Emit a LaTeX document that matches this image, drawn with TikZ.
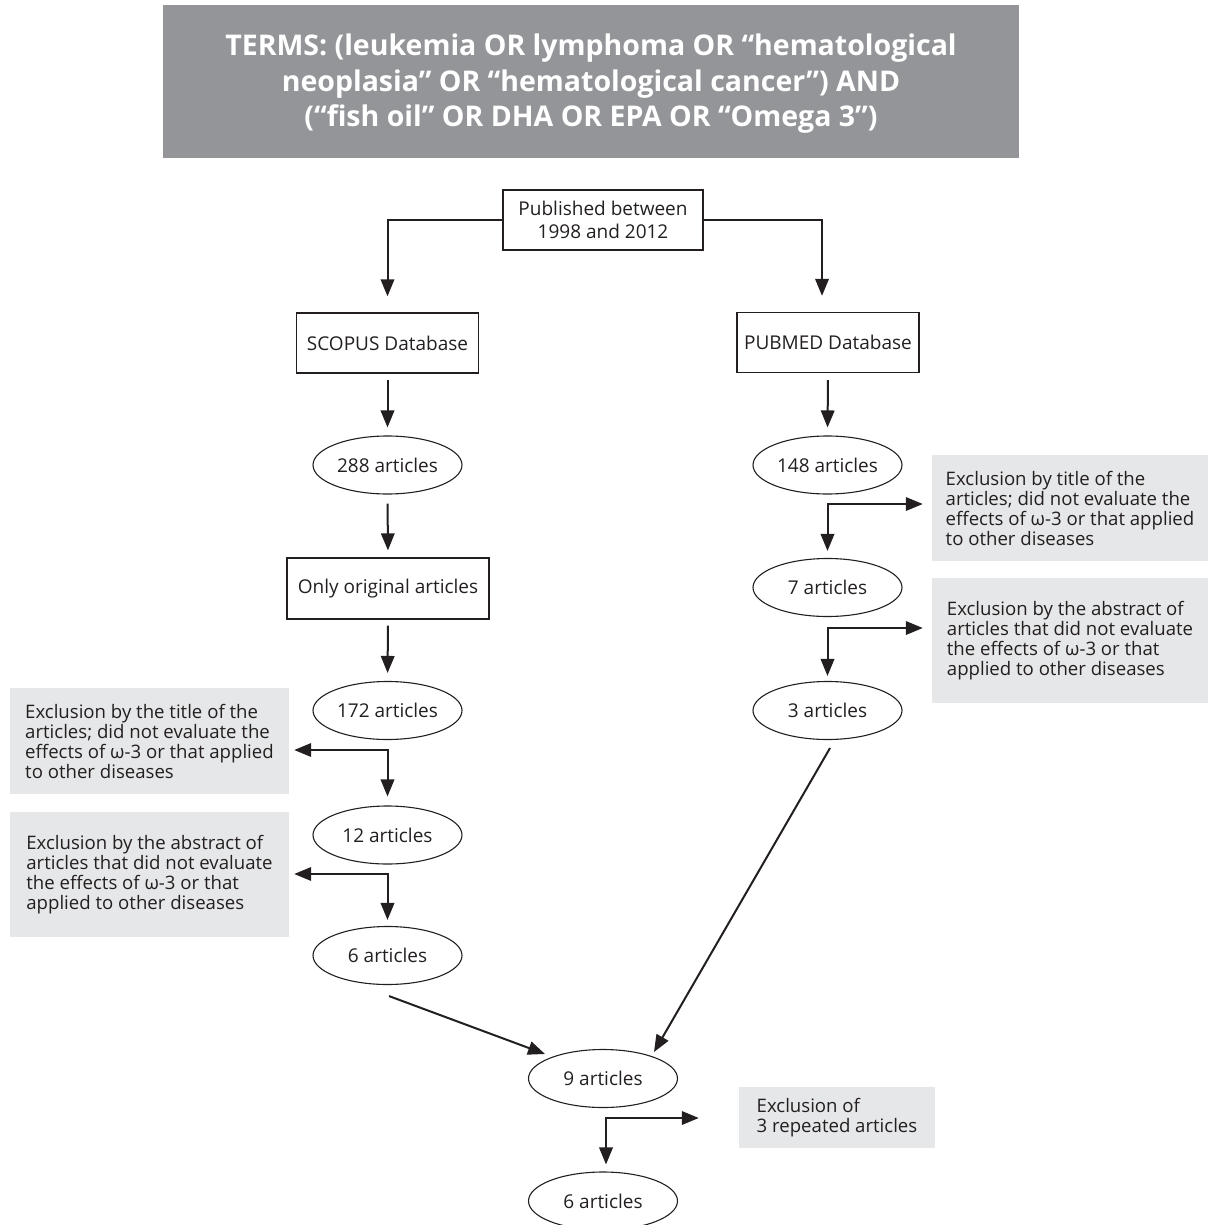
\documentclass[tikz,border=0pt]{standalone}
\usepackage{fontspec}
\setmainfont{Open Sans}
\usetikzlibrary{arrows.meta,shapes.geometric,calc}
\definecolor{ink}{HTML}{231F20}
\definecolor{darkbox}{HTML}{939598}
\definecolor{lightbox}{HTML}{E6E7E8}
\begin{document}
\begin{tikzpicture}[x=1pt,y=-1pt,
  box/.style={draw=ink, line width=1.3pt, rectangle, minimum width=182pt, minimum height=60pt,
    inner sep=0pt, font=\fontsize{19}{23}\selectfont, text=ink, align=center},
  oval/.style={draw=ink, line width=1.1pt, ellipse, minimum width=149pt, minimum height=58pt,
    inner sep=0pt, font=\fontsize{19}{23}\selectfont, text=ink},
  note/.style={fill=lightbox, inner sep=0pt, align=left, font=\fontsize{18.6}{20}\selectfont, text=ink},
  arr/.style={draw=ink, line width=2pt, -{Triangle[length=17pt,width=13.5pt]}},
  biarr/.style={draw=ink, line width=2pt, {Triangle[length=17pt,width=13.5pt]}-{Triangle[length=17pt,width=13.5pt]}}
]
\useasboundingbox (0,0) rectangle (1208,1225);

% title
\fill[darkbox] (163,5) rectangle (1019,158);
\node[inner sep=0pt, text=white,
  font=\bfseries\fontsize{28.5}{35.5}\selectfont, align=center] (title) at (591,84)
  {TERMS: (leukemia OR lymphoma OR “hematological\\neoplasia” OR “hematological cancer”) AND\\(“fish oil” OR DHA OR EPA OR “Omega 3”)};

% boxes and ellipses
\node[box, minimum width=200pt] (pub) at (603,220) {Published between\\1998 and 2012};
\node[box] (scopus) at (387.5,343) {SCOPUS Database};
\node[box] (pubmed) at (828,342.5) {PUBMED Database};
\node[oval] (e288) at (387.5,465) {288 articles};
\node[box, minimum width=202pt, minimum height=61pt] (orig) at (388,588.5) {Only original articles};
\node[oval] (e172) at (387.5,710.5) {172 articles};
\node[oval] (e12) at (387.5,835) {12 articles};
\node[oval] (e6) at (387.5,955.5) {6 articles};
\node[oval] (e148) at (827.5,465) {148 articles};
\node[oval] (e7) at (827.5,587.5) {7 articles};
\node[oval] (e3) at (827.5,710.5) {3 articles};
\node[oval] (e9) at (603,1078.5) {9 articles};
\node[oval] (e6b) at (603,1201) {6 articles};

% exclusion notes
\node[note, minimum width=276pt, minimum height=106pt] (n1) at (1070,508)
  {Exclusion by title of the\\articles; did not evaluate the\\effects of ω-3 or that applied\\to other diseases};
\node[note, minimum width=276pt, minimum height=125pt] (n2) at (1070,640.5)
  {Exclusion by the abstract of\\articles that did not evaluate\\the effects of ω-3 or that\\applied to other diseases};
\node[note, minimum width=279pt, minimum height=106pt] (n3) at (149.5,741)
  {Exclusion by the title of the\\articles; did not evaluate the\\effects of ω-3 or that applied\\to other diseases};
\node[note, minimum width=279pt, minimum height=125pt] (n4) at (149.5,874.5)
  {Exclusion by the abstract of\\articles that did not evaluate\\the effects of ω-3 or that\\applied to other diseases};
\node[note, minimum width=196pt, minimum height=61pt] (n5) at (837,1117.5)
  {Exclusion of\\3 repeated articles};

% corners
\coordinate (c1) at (827.5,504);
\coordinate (c2) at (827.5,628);
\coordinate (c3) at (387.5,750);
\coordinate (c4) at (387.5,874);
\coordinate (c5) at (606,1118);

% top split
\draw[arr, shorten >=16pt] (pub.west) -| (scopus.north);
\draw[arr, shorten >=16pt] (pub.east) -| ($(pubmed.north)+(-6,0)$);

% vertical arrows
\draw[arr, shorten <=6pt, shorten >=8pt] (scopus.south) -- (e288.north);
\draw[arr, shorten <=7pt, shorten >=8pt] (pubmed.south) -- (e148.north);
\draw[arr, shorten <=9pt, shorten >=7pt] (e288.south) -- (orig.north);
\draw[arr, shorten <=6pt, shorten >=8pt] (orig.south) -- (e172.north);

% exclusion arrows
\draw[biarr, shorten <=7pt, shorten >=9pt] (e7.north) |- (c1 -| n1.west);
\draw[biarr, shorten <=5pt, shorten >=9pt] (e3.north) |- (c2 -| n2.west);
\draw[biarr, shorten <=9pt, shorten >=5pt] (e12.north) |- (c3 -| n3.east);
\draw[biarr, shorten <=6pt, shorten >=5pt] (e6.north) |- (c4 -| n4.east);
\draw[biarr, shorten <=7pt, shorten >=40pt] (c5 |- e6b.north) |- (c5 -| n5.west);

% merging arrows
\draw[arr] ($(e6.south)+(1.5,11)$) -- ($(e9.center)+(-58,-24.5)$);
\draw[arr] ($(e3.south)+(2.5,8)$) -- ($(e9.center)+(51,-26.5)$);
\end{tikzpicture}
\end{document}
